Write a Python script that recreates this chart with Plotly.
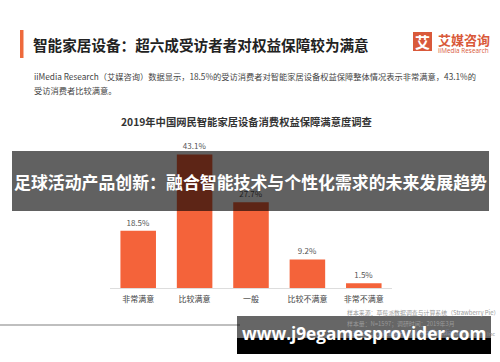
import plotly.graph_objects as go

categories = ["非常满意", "比较满意", "一般", "比较不满意", "非常不满意"]
values = [18.5, 43.1, 27.7, 9.2, 1.5]
value_labels = ["18.5%", "43.1%", "27.7%", "9.2%", "1.5%"]

main_title = "智能家居设备：超六成受访者者对权益保障较为满意"
subtitle_1 = "iiMedia Research（艾媒咨询）数据显示，18.5%的受访消费者对智能家居设备权益保障整体情况表示非常满意，43.1%的"
subtitle_2 = "受访消费者比较满意。"
chart_title = "2019年中国网民智能家居设备消费权益保障满意度调查"
banner_text = "足球活动产品创新：融合智能技术与个性化需求的未来发展趋势"
watermark_text = "www.j9egamesprovider.com"
source_1 = "样本来源：草莓派数据调查与计算系统（Strawberry Pie）"
source_2 = "样本量：N=1597；调研时间：2019年3月"
source_3 = "数据来源：艾媒数据中心（data.iimedia.cn）"
source_4 = "©iiMedia Research Inc"

W, H = 500, 362
L, R, T, B = 110, 108, 133, 74
PW, PH = W - L - R, H - T - B


def px(x):
    return (x - L) / PW


def py(y):
    return (H - B - y) / PH


CJK = "Noto Sans CJK SC"
ORANGE = "#F4633A"
LOGO = "#D9593A"

fig = go.Figure()
fig.add_trace(go.Bar(
    x=categories, y=values, text=value_labels, textposition="outside",
    textfont=dict(size=8, color="#555555", family=CJK),
    marker=dict(color=ORANGE, line=dict(width=0)),
    cliponaxis=False, hoverinfo="skip",
))

shapes = []
ann = []

# orange title bar
shapes.append(dict(type="rect", xref="paper", yref="paper",
                   x0=px(20), x1=px(23.5), y0=py(30), y1=py(58),
                   fillcolor="#EE6A3C", line=dict(width=0), layer="above"))
ann.append(dict(text="<b>" + main_title + "</b>", x=px(31), y=py(44), xref="paper", yref="paper",
                xanchor="left", yanchor="middle", showarrow=False,
                font=dict(size=14.6, color="#222222", family=CJK)))
# logo
shapes.append(dict(type="rect", xref="paper", yref="paper",
                   x0=px(413), x1=px(432), y0=py(32), y1=py(51),
                   fillcolor=LOGO, line=dict(width=0), layer="above"))
ann.append(dict(text="<b>艾</b>", x=px(422.5), y=py(41.5), xref="paper", yref="paper",
                xanchor="center", yanchor="middle", showarrow=False,
                font=dict(size=15, color="white", family=CJK)))
ann.append(dict(text="<b>艾媒咨询</b>", x=px(436), y=py(39), xref="paper", yref="paper",
                xanchor="left", yanchor="middle", showarrow=False,
                font=dict(size=13, color=LOGO, family=CJK)))
ann.append(dict(text="iiMedia Research", x=px(436), y=py(50.5), xref="paper", yref="paper",
                xanchor="left", yanchor="middle", showarrow=False,
                font=dict(size=6.4, color=LOGO, family="Open Sans")))
# subtitle
ann.append(dict(text=subtitle_1, x=px(32), y=py(76), xref="paper", yref="paper",
                xanchor="left", yanchor="middle", showarrow=False,
                font=dict(size=8.25, color="#444444", family=CJK)))
ann.append(dict(text=subtitle_2, x=px(32), y=py(90), xref="paper", yref="paper",
                xanchor="left", yanchor="middle", showarrow=False,
                font=dict(size=8.25, color="#444444", family=CJK)))
# chart title
ann.append(dict(text="<b>" + chart_title + "</b>", x=px(246.5), y=py(121), xref="paper", yref="paper",
                xanchor="center", yanchor="middle", showarrow=False,
                font=dict(size=10.3, color="#333333", family=CJK)))
# sources
for txt, yy, col in [(source_1, 312, "#999999"), (source_2, 323, "#999999")]:
    ann.append(dict(text=txt, x=px(345), y=py(yy), xref="paper", yref="paper",
                    xanchor="left", yanchor="middle", showarrow=False,
                    font=dict(size=5.9, color=col, family=CJK)))
ann.append(dict(text=source_3, x=px(345), y=py(332), xref="paper", yref="paper",
                xanchor="left", yanchor="middle", showarrow=False,
                font=dict(size=5.9, color="#7f8fb0", family=CJK)))
ann.append(dict(text=source_4, x=px(497), y=py(334), xref="paper", yref="paper",
                xanchor="right", yanchor="middle", showarrow=False,
                font=dict(size=5.9, color="#888888", family="Open Sans")))
# grey footer line
shapes.append(dict(type="line", xref="paper", yref="paper",
                   x0=px(0), x1=px(240), y0=py(325), y1=py(325),
                   line=dict(color="#aaaaaa", width=1.5), layer="above"))

# dark banner overlay
shapes.append(dict(type="rect", xref="paper", yref="paper",
                   x0=px(12), x1=px(489), y0=py(151), y1=py(211),
                   fillcolor="rgba(0,0,0,0.62)", line=dict(width=0), layer="above"))
ann.append(dict(text="<b>" + banner_text + "</b>", x=px(250.5), y=py(181), xref="paper", yref="paper",
                xanchor="center", yanchor="middle", showarrow=False,
                font=dict(size=16.9, color="white", family=CJK)))

# watermark box
shapes.append(dict(type="rect", xref="paper", yref="paper",
                   x0=px(237), x1=px(491), y0=py(316), y1=py(338),
                   fillcolor="rgba(0,0,0,0.6)", line=dict(width=0), layer="above"))
shapes.append(dict(type="rect", xref="paper", yref="paper",
                   x0=px(237), x1=px(491), y0=py(338), y1=py(354),
                   fillcolor="#000000", line=dict(width=0), layer="above"))
ann.append(dict(text="<b>" + watermark_text + "</b>", x=px(364), y=py(333), xref="paper", yref="paper",
                xanchor="center", yanchor="middle", showarrow=False,
                font=dict(size=17.2, color="white", family="Open Sans")))

fig.update_layout(
    width=W, height=H, margin=dict(l=L, r=R, t=T, b=B, pad=0),
    paper_bgcolor="white", plot_bgcolor="white",
    showlegend=False, bargap=0.37,
    shapes=shapes, annotations=ann,
    xaxis=dict(showline=True, linecolor="#dddddd", linewidth=1, ticks="",
               ticklabelstandoff=3,
               tickfont=dict(size=8, color="#444444", family=CJK),
               showgrid=False, zeroline=False, fixedrange=True),
    yaxis=dict(range=[0, 50], visible=False, showgrid=False, zeroline=False, fixedrange=True),
)

fig.write_html("out.html", config={"displayModeBar": False},
               post_script="document.body.style.margin='0';document.body.style.overflow='hidden';")
